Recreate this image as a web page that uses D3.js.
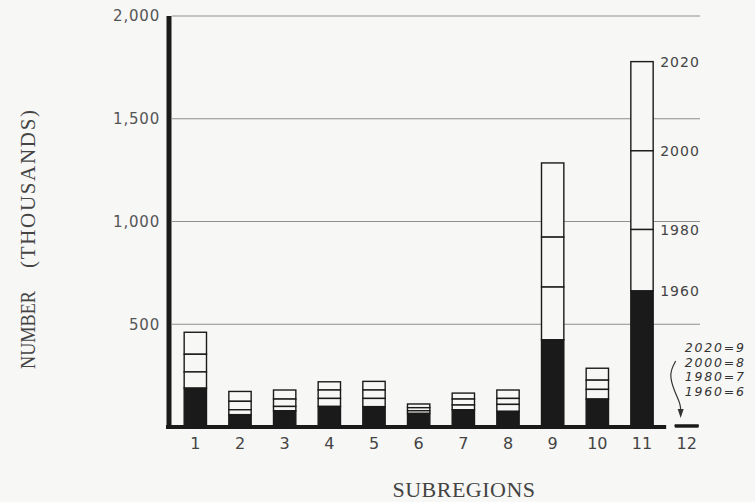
<html>
    <head>
        <script src="https://d3js.org/d3.v7.min.js"></script>
        <style>
            body { margin: 0; background: #f7f7f5; }
        </style>
    </head>
    <body>
        <div id="chartDiv1"></div>
    </body>

<script>

// values in thousands
const subregions = ["1", "2", "3", "4", "5", "6", "7", "8", "9", "10", "11", "12"];
const v1960 = [189, 60, 79, 100, 99, 66, 84, 76, 424, 136, 662, 6];
const v1980 = [268, 84, 100, 139, 139, 79, 107, 110, 681, 183, 961, 7];
const v2000 = [354, 125, 136, 180, 180, 94, 136, 139, 924, 228, 1344, 8];
const v2020 = [461, 173, 180, 220, 222, 112, 165, 180, 1285, 286, 1778, 9];
const years = ["1960", "1980", "2000", "2020"];
const yTicks = [500, 1000, 1500, 2000];

function createChart() {
  const width = 755, height = 502;
  const bg = "#f7f7f5";

  const svg = d3.select("#chartDiv1")
    .append("svg")
    .attr("width", width)
    .attr("height", height)
    .style("display", "block");

  svg.append("rect").attr("width", width).attr("height", height).attr("fill", bg);

  const x = d3.scaleBand()
    .domain(subregions)
    .range([173, 709])
    .paddingInner(0.5)
    .paddingOuter(0.25);

  const y = d3.scaleLinear()
    .domain([0, 2000])
    .range([427, 16]);

  // gridlines
  svg.selectAll(".grid")
    .data(yTicks)
    .enter()
    .append("line")
    .attr("x1", 172)
    .attr("x2", 700)
    .attr("y1", d => y(d))
    .attr("y2", d => y(d))
    .attr("stroke", "#8f8f8f")
    .attr("stroke-width", 1);

  // left axis, labels only (the heavy line drawn by hand below)
  const yAxis = svg.append("g")
    .attr("transform", "translate(160,0)")
    .call(d3.axisLeft(y).tickValues(yTicks).tickSize(0).tickPadding(0).tickFormat(d3.format(",")));
  yAxis.select(".domain").remove();
  yAxis.selectAll("text")
    .style("font-family", "DejaVu Sans")
    .style("font-size", "15px")
    .style("letter-spacing", "0.8px")
    .attr("fill", "#555");

  svg.append("line")
    .attr("x1", 169).attr("x2", 169)
    .attr("y1", y(2000)).attr("y2", y(0) + 2)
    .attr("stroke", "#1a1a1a")
    .attr("stroke-width", 5);

  // stacked segments: black up to 1960, open boxes for later years
  const rows = subregions.map((s, i) => ({
    s: s,
    vals: [0, v1960[i], v1980[i], v2000[i], v2020[i]]
  }));

  const bw = x.bandwidth();

  rows.forEach(r => {
    for (let k = 3; k >= 0; k--) {
      svg.append("rect")
        .attr("x", x(r.s))
        .attr("y", y(r.vals[k + 1]))
        .attr("width", bw)
        .attr("height", y(r.vals[k]) - y(r.vals[k + 1]))
        .attr("fill", k == 0 ? "#1a1a1a" : bg)
        .attr("stroke", "#1a1a1a")
        .attr("stroke-width", 1.4);
    }
  });

  // heavy baseline
  svg.append("line")
    .attr("x1", 166)
    .attr("x2", x("11") + bw + 13)
    .attr("y1", y(0)).attr("y2", y(0))
    .attr("stroke", "#1a1a1a")
    .attr("stroke-width", 4);

  // subregion labels
  svg.selectAll(".xlab")
    .data(subregions)
    .enter()
    .append("text")
    .attr("x", d => x(d) + bw / 2)
    .attr("y", 449)
    .attr("text-anchor", "middle")
    .style("font-family", "DejaVu Sans")
    .style("font-size", "16px")
    .attr("fill", "#444")
    .text(d => d);

  // year labels beside the tallest bar
  const i11 = subregions.indexOf("11");
  const yearVals = [v1960[i11], v1980[i11], v2000[i11], v2020[i11]];
  svg.selectAll(".yr")
    .data(years)
    .enter()
    .append("text")
    .attr("x", x("11") + bw + 7)
    .attr("y", (d, i) => y(yearVals[i]) + 5)
    .style("font-family", "DejaVu Sans")
    .style("font-size", "14px")
    .style("letter-spacing", "1px")
    .attr("fill", "#444")
    .text(d => d);

  // note for subregion 12, too small to show
  const i12 = subregions.indexOf("12");
  const v12 = [v2020[i12], v2000[i12], v1980[i12], v1960[i12]];
  const noteYears = years.slice().reverse();
  const cx = x("12") + bw / 2;
  svg.selectAll(".note")
    .data(noteYears)
    .enter()
    .append("text")
    .attr("x", cx - 2)
    .attr("y", (d, i) => 352 + i * 14.5)
    .style("font-family", "DejaVu Sans")
    .style("font-style", "italic")
    .style("font-size", "12.5px")
    .style("letter-spacing", "1.8px")
    .attr("fill", "#333")
    .text((d, i) => d + "=" + v12[i]);

  const arrow = d3.line().curve(d3.curveBasis);
  svg.append("path")
    .attr("d", arrow([[cx - 11, 361], [cx - 18, 374], [cx - 12, 392], [cx - 6, 404], [cx - 6, 412]]))
    .attr("fill", "none")
    .attr("stroke", "#333")
    .attr("stroke-width", 1.2);
  svg.append("path")
    .attr("d", "M" + (cx - 9) + ",409 L" + (cx - 6) + ",418 L" + (cx - 3) + ",409 Z")
    .attr("fill", "#333");

  // axis titles, typewriter lettering
  const title = svg.append("g")
    .attr("transform", "translate(35,0) rotate(-90)")
    .style("font-family", "Liberation Serif")
    .style("font-size", "21px")
    .attr("fill", "#444");
  title.append("text")
    .attr("x", -330).attr("y", 0)
    .attr("text-anchor", "middle")
    .attr("textLength", 78)
    .attr("lengthAdjust", "spacingAndGlyphs")
    .text("NUMBER");
  title.append("text")
    .attr("x", -189).attr("y", 0)
    .attr("text-anchor", "middle")
    .attr("textLength", 158)
    .attr("lengthAdjust", "spacing")
    .text("(THOUSANDS)");

  svg.append("text")
    .attr("x", 464)
    .attr("y", 497)
    .attr("text-anchor", "middle")
    .style("font-family", "Liberation Serif")
    .style("font-size", "22px")
    .style("letter-spacing", "0.5px")
    .attr("fill", "#444")
    .text("SUBREGIONS");
}

createChart();

</script>

</html>
